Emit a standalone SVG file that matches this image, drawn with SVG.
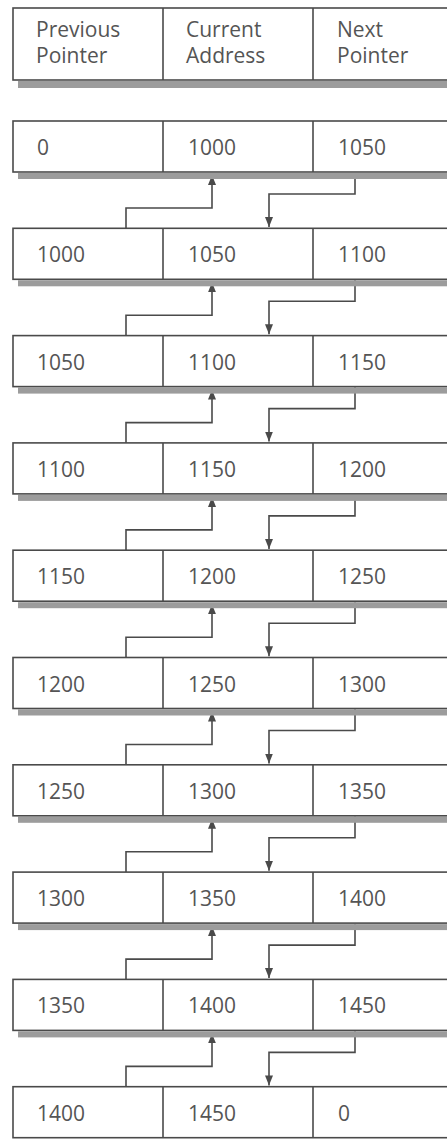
<svg xmlns="http://www.w3.org/2000/svg" width="447" height="1141" viewBox="0 0 447 1141">
<style>
.box{fill:#fff;stroke:#4a4a4a;stroke-width:1.6}
.div{stroke:#4a4a4a;stroke-width:1.6}
.sh{fill:#9c9c9c}
.t{font-family:"Open Sans","Noto Sans",sans-serif;font-size:21px;fill:#555}
.c{fill:none;stroke:#4a4a4a;stroke-width:1.6}
</style>
<defs>
<marker id="ah" markerUnits="userSpaceOnUse" markerWidth="10" markerHeight="8" refX="10" refY="4" orient="auto">
<path d="M0,0 L10,4 L0,8 z" fill="#4a4a4a"/>
</marker>
</defs>
<rect width="447" height="1141" fill="#fff"/>
<g id="header">
<rect class="sh" x="18" y="81" width="440" height="7"/>
<rect class="box" x="13" y="8" width="450" height="72"/>
<line class="div" x1="163" y1="8" x2="163" y2="80"/>
<line class="div" x1="313" y1="8" x2="313" y2="80"/>
<text class="t" x="36" y="37">Previous</text>
<text class="t" x="36" y="63">Pointer</text>
<text class="t" x="186" y="37">Current</text>
<text class="t" x="186" y="63">Address</text>
<text class="t" x="337" y="37">Next</text>
<text class="t" x="337" y="63">Pointer</text>
</g>
<g id="connectors">
<g transform="translate(0,121)"><path class="c" d="M126 107.3 V87 H212 V54" marker-end="url(#ah)"/><path class="c" d="M355 52 V73 H269 V106" marker-end="url(#ah)"/></g>
<g transform="translate(0,228.3)"><path class="c" d="M126 107.3 V87 H212 V54" marker-end="url(#ah)"/><path class="c" d="M355 52 V73 H269 V106" marker-end="url(#ah)"/></g>
<g transform="translate(0,335.6)"><path class="c" d="M126 107.3 V87 H212 V54" marker-end="url(#ah)"/><path class="c" d="M355 52 V73 H269 V106" marker-end="url(#ah)"/></g>
<g transform="translate(0,442.9)"><path class="c" d="M126 107.3 V87 H212 V54" marker-end="url(#ah)"/><path class="c" d="M355 52 V73 H269 V106" marker-end="url(#ah)"/></g>
<g transform="translate(0,550.2)"><path class="c" d="M126 107.3 V87 H212 V54" marker-end="url(#ah)"/><path class="c" d="M355 52 V73 H269 V106" marker-end="url(#ah)"/></g>
<g transform="translate(0,657.5)"><path class="c" d="M126 107.3 V87 H212 V54" marker-end="url(#ah)"/><path class="c" d="M355 52 V73 H269 V106" marker-end="url(#ah)"/></g>
<g transform="translate(0,764.8)"><path class="c" d="M126 107.3 V87 H212 V54" marker-end="url(#ah)"/><path class="c" d="M355 52 V73 H269 V106" marker-end="url(#ah)"/></g>
<g transform="translate(0,872.1)"><path class="c" d="M126 107.3 V87 H212 V54" marker-end="url(#ah)"/><path class="c" d="M355 52 V73 H269 V106" marker-end="url(#ah)"/></g>
<g transform="translate(0,979.4)"><path class="c" d="M126 107.3 V87 H212 V54" marker-end="url(#ah)"/><path class="c" d="M355 52 V73 H269 V106" marker-end="url(#ah)"/></g>
</g>
<g id="row0" transform="translate(0,121)"><rect class="sh" x="18" y="52" width="440" height="6"/><rect class="box" x="13" y="0" width="450" height="51"/><line class="div" x1="163" y1="0" x2="163" y2="51"/><line class="div" x1="313" y1="0" x2="313" y2="51"/><text class="t" x="37" y="34">0</text><text class="t" x="188" y="34">1000</text><text class="t" x="338" y="34">1050</text></g>
<g id="row1" transform="translate(0,228.3)"><rect class="sh" x="18" y="52" width="440" height="6"/><rect class="box" x="13" y="0" width="450" height="51"/><line class="div" x1="163" y1="0" x2="163" y2="51"/><line class="div" x1="313" y1="0" x2="313" y2="51"/><text class="t" x="37" y="34">1000</text><text class="t" x="188" y="34">1050</text><text class="t" x="338" y="34">1100</text></g>
<g id="row2" transform="translate(0,335.6)"><rect class="sh" x="18" y="52" width="440" height="6"/><rect class="box" x="13" y="0" width="450" height="51"/><line class="div" x1="163" y1="0" x2="163" y2="51"/><line class="div" x1="313" y1="0" x2="313" y2="51"/><text class="t" x="37" y="34">1050</text><text class="t" x="188" y="34">1100</text><text class="t" x="338" y="34">1150</text></g>
<g id="row3" transform="translate(0,442.9)"><rect class="sh" x="18" y="52" width="440" height="6"/><rect class="box" x="13" y="0" width="450" height="51"/><line class="div" x1="163" y1="0" x2="163" y2="51"/><line class="div" x1="313" y1="0" x2="313" y2="51"/><text class="t" x="37" y="34">1100</text><text class="t" x="188" y="34">1150</text><text class="t" x="338" y="34">1200</text></g>
<g id="row4" transform="translate(0,550.2)"><rect class="sh" x="18" y="52" width="440" height="6"/><rect class="box" x="13" y="0" width="450" height="51"/><line class="div" x1="163" y1="0" x2="163" y2="51"/><line class="div" x1="313" y1="0" x2="313" y2="51"/><text class="t" x="37" y="34">1150</text><text class="t" x="188" y="34">1200</text><text class="t" x="338" y="34">1250</text></g>
<g id="row5" transform="translate(0,657.5)"><rect class="sh" x="18" y="52" width="440" height="6"/><rect class="box" x="13" y="0" width="450" height="51"/><line class="div" x1="163" y1="0" x2="163" y2="51"/><line class="div" x1="313" y1="0" x2="313" y2="51"/><text class="t" x="37" y="34">1200</text><text class="t" x="188" y="34">1250</text><text class="t" x="338" y="34">1300</text></g>
<g id="row6" transform="translate(0,764.8)"><rect class="sh" x="18" y="52" width="440" height="6"/><rect class="box" x="13" y="0" width="450" height="51"/><line class="div" x1="163" y1="0" x2="163" y2="51"/><line class="div" x1="313" y1="0" x2="313" y2="51"/><text class="t" x="37" y="34">1250</text><text class="t" x="188" y="34">1300</text><text class="t" x="338" y="34">1350</text></g>
<g id="row7" transform="translate(0,872.1)"><rect class="sh" x="18" y="52" width="440" height="6"/><rect class="box" x="13" y="0" width="450" height="51"/><line class="div" x1="163" y1="0" x2="163" y2="51"/><line class="div" x1="313" y1="0" x2="313" y2="51"/><text class="t" x="37" y="34">1300</text><text class="t" x="188" y="34">1350</text><text class="t" x="338" y="34">1400</text></g>
<g id="row8" transform="translate(0,979.4)"><rect class="sh" x="18" y="52" width="440" height="6"/><rect class="box" x="13" y="0" width="450" height="51"/><line class="div" x1="163" y1="0" x2="163" y2="51"/><line class="div" x1="313" y1="0" x2="313" y2="51"/><text class="t" x="37" y="34">1350</text><text class="t" x="188" y="34">1400</text><text class="t" x="338" y="34">1450</text></g>
<g id="row9" transform="translate(0,1086.7)"><rect class="box" x="13" y="0" width="450" height="51"/><line class="div" x1="163" y1="0" x2="163" y2="51"/><line class="div" x1="313" y1="0" x2="313" y2="51"/><text class="t" x="37" y="34">1400</text><text class="t" x="188" y="34">1450</text><text class="t" x="338" y="34">0</text></g>
</svg>
